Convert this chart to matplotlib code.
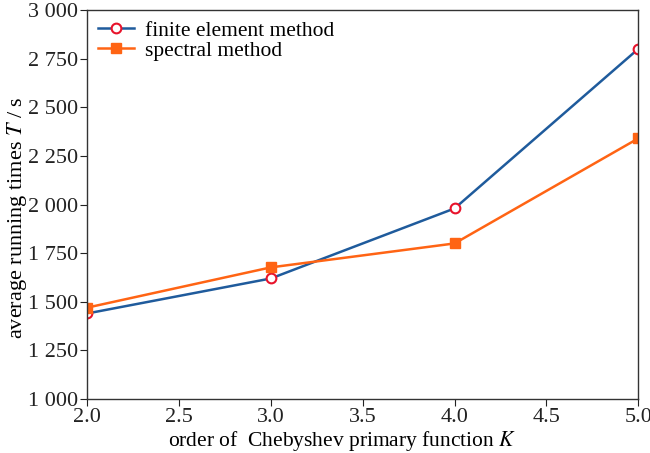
import matplotlib

matplotlib.use("Agg")
import matplotlib.pyplot as plt  # noqa: E402
from matplotlib.ticker import FuncFormatter  # noqa: E402

plt.rcParams["font.family"] = ["Liberation Serif", "DejaVu Serif"]
plt.rcParams["mathtext.fontset"] = "stix"

order_k = [2.0, 3.0, 4.0, 5.0]
fem_time = [1440, 1620, 1980, 2800]
spectral_time = [1470, 1677, 1800, 2340]


def thousands(v, _pos):
    s = f"{int(round(v)):,}"
    return s.replace(",", " ")


fig = plt.figure(figsize=(6.5, 4.53), dpi=100)
ax = fig.add_axes([0.134, 0.119, 0.848, 0.859])

ax.plot(order_k, fem_time, color="#1f5b9c", lw=1.8, marker="o", ms=7,
        mfc="white", mec="#e8132b", mew=1.5, label="finite element method")
ax.plot(order_k, spectral_time, color="#ff6414", lw=1.8, marker="s", ms=6.5,
        mfc="#ff6414", mec="#ff6414", label="spectral method")

ax.set_xlim(2.0, 5.0)
ax.set_ylim(1000, 3000)
ax.set_xticks([2.0, 2.5, 3.0, 3.5, 4.0, 4.5, 5.0])
ax.set_yticks(range(1000, 3001, 250))
ax.yaxis.set_major_formatter(FuncFormatter(thousands))
ax.tick_params(labelsize=16, length=5, pad=1.5, colors="#222222")
for s in ax.spines.values():
    s.set_linewidth(1.0)
    s.set_color("#333333")

ax.set_xlabel("order of  Chebyshev primary function $K$", fontsize=15.5)
ax.set_ylabel("average running times $T$ / s", fontsize=16)
ax.xaxis.set_label_coords(0.463, -0.076)
ax.yaxis.set_label_coords(-0.106, 0.465)
ax.legend(loc="upper left", fontsize=15.5, frameon=False, handlelength=1.7,
          borderaxespad=0.2, borderpad=0.3, labelspacing=0.0,
          handletextpad=0.5)

fig.savefig("out.png", dpi=100)
